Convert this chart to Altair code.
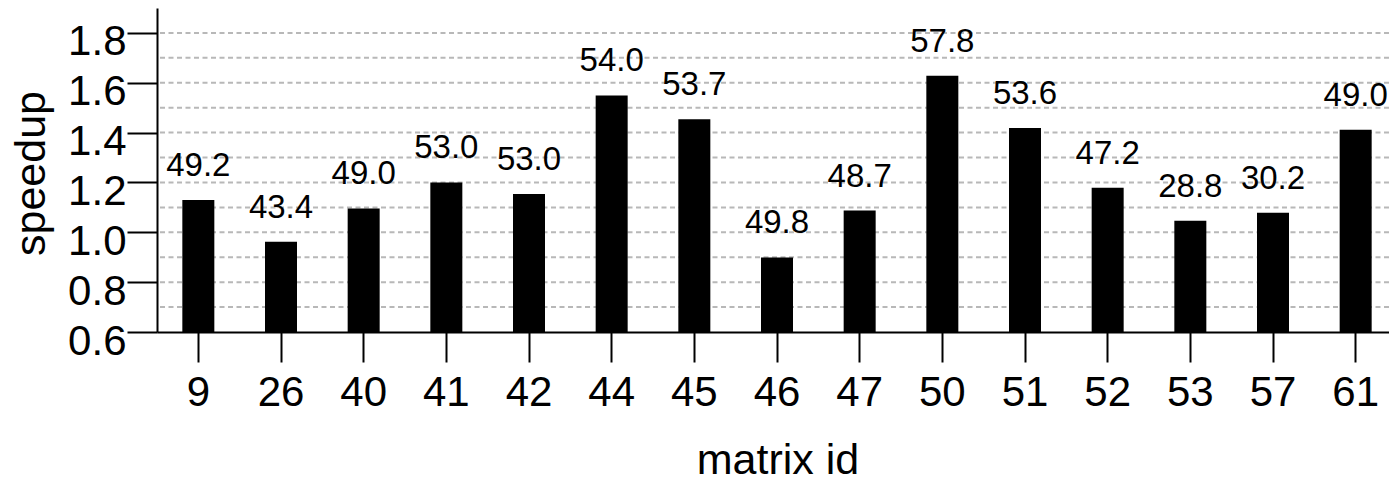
import altair as alt
import pandas as pd

FONT = "Liberation Sans"

matrix_ids = ["9", "26", "40", "41", "42", "44", "45", "46", "47", "50", "51", "52", "53", "57", "61"]
speedups = [1.13, 0.962, 1.096, 1.20, 1.154, 1.549, 1.454, 0.899, 1.087, 1.628, 1.419, 1.179, 1.046, 1.078, 1.411]
bar_labels = ["49.2", "43.4", "49.0", "53.0", "53.0", "54.0", "53.7", "49.8", "48.7", "57.8", "53.6", "47.2", "28.8", "30.2", "49.0"]
y_ticks = [0.6, 0.8, 1.0, 1.2, 1.4, 1.6, 1.8]
grid_lines = [0.7, 0.8, 0.9, 1.0, 1.1, 1.2, 1.3, 1.4, 1.5, 1.6, 1.7, 1.8]

df = pd.DataFrame({"id": matrix_ids, "speedup": speedups, "label": bar_labels})
grid_df = pd.DataFrame({"g": grid_lines})

xscale = alt.Scale(domain=matrix_ids, range=[0, 1240], paddingInner=0, paddingOuter=0)
yscale = alt.Scale(domain=[0.6, 1.9], nice=False, zero=False)

x_axis = alt.Axis(
    title="matrix id", labelAngle=0, labelFontSize=42, labelFont=FONT, labelColor="black",
    tickSize=30, tickWidth=2, tickColor="black", domainColor="black", domainWidth=2,
    labelPadding=10, grid=False,
    titleFont=FONT, titleFontSize=43, titleFontWeight="normal", titleColor="black",
    titleX=620.5, titleY=141, titleAlign="center", titleBaseline="alphabetic",
)
y_axis = alt.Axis(
    values=y_ticks, format=".1f", title="speedup",
    labelFontSize=42, labelFont=FONT, labelColor="black", labelPadding=1,
    labelBaseline="alphabetic", labelOffset=22, labelFlush=False, labelOverlap=False,
    tickSize=30, tickWidth=2, tickColor="black", domainColor="black", domainWidth=2, grid=False,
    titleFont=FONT, titleFontSize=43, titleFontWeight="normal", titleColor="black",
    titleX=-113, titleY=165, titleAngle=270, titleAlign="center", titleBaseline="alphabetic",
)

grid = alt.Chart(grid_df).mark_rule(color="#b8b8b8", strokeDash=[5, 3.5], strokeWidth=2).encode(
    y=alt.Y("g:Q", scale=yscale, axis=y_axis, title="speedup")
)

bars = alt.Chart(df).mark_bar(color="black", size=32, clip=True).encode(
    x=alt.X("id:N", sort=matrix_ids, scale=xscale, axis=x_axis, title="matrix id"),
    y=alt.Y("speedup:Q", scale=yscale, axis=y_axis, title="speedup"),
)

texts = alt.Chart(df).mark_text(
    fontSize=33, font=FONT, baseline="alphabetic", align="center", dy=-24, color="black"
).encode(
    x=alt.X("id:N", sort=matrix_ids, scale=xscale, axis=x_axis, title="matrix id"),
    y=alt.Y("speedup:Q", scale=yscale, axis=y_axis, title="speedup"),
    text="label:N",
)

chart = alt.layer(grid, bars, texts).properties(
    width=1232, height=324,
    autosize=alt.AutoSizeParams(type="none"),
    padding={"left": 149, "top": 0, "right": 0, "bottom": 144},
).configure(font=FONT).configure_view(stroke=None)

chart.save("out.html", embed_options={"renderer": "svg", "actions": False})
